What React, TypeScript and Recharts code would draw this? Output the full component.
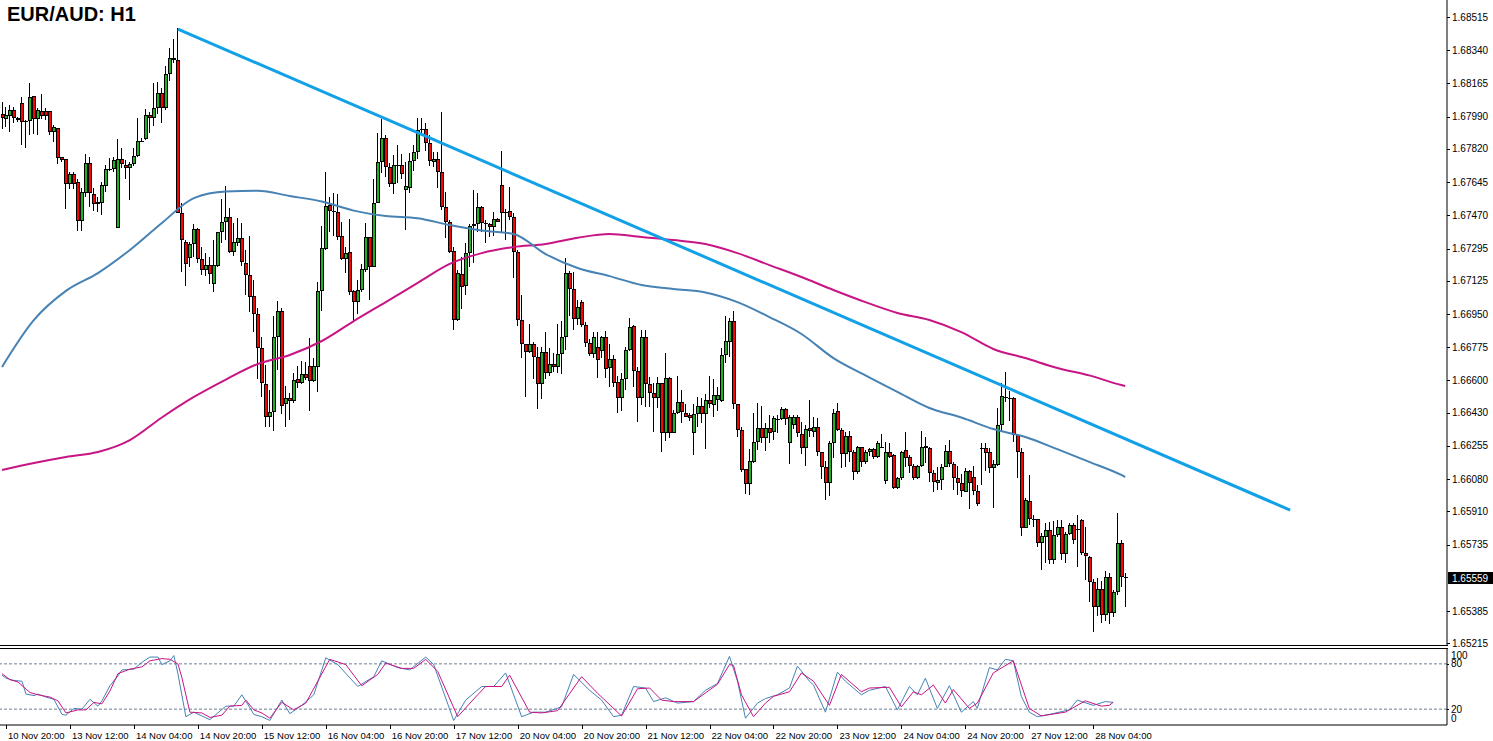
import React from "react";
import { ComposedChart, LineChart, Line, Bar, XAxis, YAxis, ReferenceLine } from "recharts";

// ---- price data (EUR/AUD H1), one entry per bar, oldest first ----
const opens = [
  1.68003, 1.67980, 1.67995, 1.68025, 1.67985, 1.68062, 1.67967, 1.67966, 1.68098, 1.67980,
  1.68022, 1.68020, 1.68020, 1.67911, 1.67929, 1.67778, 1.67766, 1.67634, 1.67688, 1.67644,
  1.67442, 1.67586, 1.67744, 1.67583, 1.67541, 1.67537, 1.67626, 1.67717, 1.67716, 1.67402,
  1.67766, 1.67735, 1.67722, 1.67739, 1.67783, 1.67858, 1.67872, 1.67999, 1.67985, 1.68034,
  1.68116, 1.68034, 1.68213, 1.68298, 1.68289, 1.67481, 1.67328, 1.67247, 1.67318, 1.67398,
  1.67238, 1.67182, 1.67208, 1.67107, 1.67205, 1.67382, 1.67437, 1.67464, 1.67278, 1.67327,
  1.67349, 1.67219, 1.67155, 1.67045, 1.66949, 1.66770, 1.66584, 1.66406, 1.66434, 1.66827,
  1.66966, 1.66474, 1.66505, 1.66494, 1.66606, 1.66587, 1.66633, 1.66678, 1.66599, 1.66673,
  1.67073, 1.67292, 1.67524, 1.67494, 1.67486, 1.67361, 1.67238, 1.67275, 1.67072, 1.67015,
  1.67077, 1.67182, 1.67355, 1.67200, 1.67534, 1.67750, 1.67876, 1.67723, 1.67634, 1.67734,
  1.67734, 1.67604, 1.67613, 1.67757, 1.67804, 1.67924, 1.67924, 1.67853, 1.67752, 1.67766,
  1.67697, 1.67516, 1.67437, 1.67284, 1.66919, 1.67160, 1.67099, 1.67271, 1.67415, 1.67426,
  1.67513, 1.67432, 1.67423, 1.67411, 1.67449, 1.67630, 1.67489, 1.67494, 1.67460, 1.67278,
  1.66919, 1.66790, 1.66748, 1.66790, 1.66722, 1.66580, 1.66748, 1.66638, 1.66686, 1.66671,
  1.66738, 1.66828, 1.67165, 1.67082, 1.66922, 1.67011, 1.66890, 1.66796, 1.66739, 1.66778,
  1.66757, 1.66827, 1.66664, 1.66711, 1.66594, 1.66505, 1.66606, 1.66761, 1.66887, 1.66650,
  1.66505, 1.66829, 1.66580, 1.66533, 1.66505, 1.66585, 1.66325, 1.66612, 1.66325, 1.66428,
  1.66484, 1.66428, 1.66418, 1.66325, 1.66424, 1.66465, 1.66424, 1.66497, 1.66471, 1.66497,
  1.66494, 1.66734, 1.66804, 1.66913, 1.66474, 1.66339, 1.66132, 1.66053, 1.66172, 1.66274,
  1.66348, 1.66298, 1.66348, 1.66327, 1.66399, 1.66397, 1.66451, 1.66270, 1.66364, 1.66406,
  1.66318, 1.66245, 1.66348, 1.66327, 1.66357, 1.66221, 1.66145, 1.66058, 1.66270, 1.66438,
  1.66339, 1.66211, 1.66307, 1.66224, 1.66116, 1.66249, 1.66168, 1.66224, 1.66238, 1.66195,
  1.66251, 1.66070, 1.66221, 1.66207, 1.66032, 1.66085, 1.66234, 1.66195, 1.66150, 1.66084,
  1.66149, 1.66255, 1.66243, 1.66111, 1.66058, 1.66075, 1.66145, 1.66228, 1.66161, 1.66085,
  1.66058, 1.66014, 1.66123, 1.66089, 1.66018, 1.66246, 1.66243, 1.66221, 1.66137, 1.66154,
  1.66366, 1.66514, 1.66510, 1.66505, 1.66313, 1.66224, 1.65824, 1.65965, 1.65870, 1.65872,
  1.65745, 1.65776, 1.65812, 1.65654, 1.65785, 1.65829, 1.65684, 1.65790, 1.65838, 1.65816,
  1.65865, 1.65693, 1.65671, 1.65539, 1.65405, 1.65499, 1.65364, 1.65563, 1.65373, 1.65483,
  1.65742, 1.65566,
];

const highs = [
  1.68066, 1.68040, 1.68052, 1.68040, 1.67990, 1.68092, 1.67973, 1.68166, 1.68098, 1.68034,
  1.68110, 1.68034, 1.68020, 1.67946, 1.67929, 1.67779, 1.67766, 1.67700, 1.67700, 1.67660,
  1.67613, 1.67793, 1.67779, 1.67613, 1.67568, 1.67647, 1.67735, 1.67771, 1.67779, 1.67872,
  1.67824, 1.67762, 1.67753, 1.67824, 1.67982, 1.67876, 1.68029, 1.68016, 1.68166, 1.68174,
  1.68140, 1.68255, 1.68350, 1.68400, 1.68456, 1.67534, 1.67340, 1.67332, 1.67425, 1.67402,
  1.67305, 1.67270, 1.67252, 1.67340, 1.67384, 1.67557, 1.67625, 1.67507, 1.67428, 1.67455,
  1.67432, 1.67288, 1.67361, 1.67129, 1.66983, 1.66827, 1.66680, 1.66550, 1.66940, 1.67019,
  1.66983, 1.66571, 1.66533, 1.66638, 1.66676, 1.66702, 1.66699, 1.66825, 1.66719, 1.67120,
  1.67415, 1.67700, 1.67568, 1.67586, 1.67582, 1.67437, 1.67305, 1.67451, 1.67077, 1.67129,
  1.67216, 1.67432, 1.67357, 1.67660, 1.67903, 1.67978, 1.67894, 1.67744, 1.67788, 1.67841,
  1.67792, 1.67753, 1.67797, 1.67841, 1.67982, 1.67982, 1.67958, 1.67894, 1.67804, 1.67806,
  1.68013, 1.67592, 1.67446, 1.67305, 1.67182, 1.67252, 1.67323, 1.67426, 1.67604, 1.67590,
  1.67519, 1.67446, 1.67432, 1.67486, 1.67455, 1.67809, 1.67504, 1.67618, 1.67481, 1.67288,
  1.67050, 1.66790, 1.66897, 1.66804, 1.66775, 1.66778, 1.66856, 1.66773, 1.66743, 1.66897,
  1.66913, 1.67244, 1.67178, 1.67173, 1.67024, 1.67024, 1.66910, 1.66817, 1.66857, 1.66857,
  1.66835, 1.66861, 1.66792, 1.66734, 1.66624, 1.66638, 1.66778, 1.66931, 1.66890, 1.66672,
  1.66866, 1.66866, 1.66620, 1.66585, 1.66620, 1.66588, 1.66743, 1.66620, 1.66444, 1.66624,
  1.66550, 1.66476, 1.66427, 1.66474, 1.66514, 1.66505, 1.66529, 1.66624, 1.66606, 1.66567,
  1.66770, 1.66940, 1.66931, 1.66966, 1.66474, 1.66357, 1.66132, 1.66238, 1.66431, 1.66483,
  1.66465, 1.66374, 1.66420, 1.66413, 1.66418, 1.66459, 1.66455, 1.66418, 1.66418, 1.66418,
  1.66383, 1.66366, 1.66497, 1.66406, 1.66400, 1.66224, 1.66177, 1.66280, 1.66448, 1.66480,
  1.66348, 1.66330, 1.66334, 1.66234, 1.66256, 1.66252, 1.66234, 1.66242, 1.66246, 1.66280,
  1.66316, 1.66277, 1.66272, 1.66213, 1.66093, 1.66230, 1.66330, 1.66207, 1.66161, 1.66155,
  1.66334, 1.66302, 1.66248, 1.66128, 1.66145, 1.66161, 1.66260, 1.66286, 1.66172, 1.66149,
  1.66105, 1.66137, 1.66128, 1.66149, 1.66049, 1.66269, 1.66269, 1.66243, 1.66181, 1.66453,
  1.66585, 1.66646, 1.66542, 1.66514, 1.66318, 1.66243, 1.65979, 1.66102, 1.65891, 1.65872,
  1.65794, 1.65847, 1.65856, 1.65861, 1.65865, 1.65865, 1.65800, 1.65847, 1.65847, 1.65891,
  1.65870, 1.65829, 1.65675, 1.65552, 1.65557, 1.65545, 1.65594, 1.65585, 1.65496, 1.65903,
  1.65759, 1.65585,
];

const lows = [
  1.67924, 1.67932, 1.67911, 1.67955, 1.67964, 1.67841, 1.67824, 1.67890, 1.67899, 1.67894,
  1.67978, 1.67973, 1.67896, 1.67855, 1.67739, 1.67752, 1.67505, 1.67609, 1.67609, 1.67387,
  1.67384, 1.67568, 1.67516, 1.67493, 1.67488, 1.67472, 1.67595, 1.67700, 1.67700, 1.67402,
  1.67716, 1.67660, 1.67555, 1.67730, 1.67776, 1.67855, 1.67864, 1.67903, 1.67941, 1.68003,
  1.67955, 1.68025, 1.68174, 1.68271, 1.67481, 1.67173, 1.67095, 1.67200, 1.67252, 1.67219,
  1.67160, 1.67150, 1.67108, 1.67068, 1.67200, 1.67327, 1.67340, 1.67271, 1.67252, 1.67305,
  1.67208, 1.67050, 1.66963, 1.66857, 1.66607, 1.66510, 1.66355, 1.66357, 1.66335, 1.66655,
  1.66424, 1.66355, 1.66392, 1.66480, 1.66560, 1.66581, 1.66605, 1.66441, 1.66593, 1.66542,
  1.66968, 1.67288, 1.67384, 1.67361, 1.67340, 1.67235, 1.67166, 1.67050, 1.66910, 1.66949,
  1.67068, 1.67173, 1.67027, 1.67200, 1.67534, 1.67695, 1.67673, 1.67618, 1.67582, 1.67639,
  1.67660, 1.67397, 1.67586, 1.67705, 1.67767, 1.67894, 1.67809, 1.67733, 1.67727, 1.67616,
  1.67495, 1.67352, 1.67273, 1.66866, 1.66915, 1.66977, 1.67050, 1.67200, 1.67219, 1.67387,
  1.67384, 1.67327, 1.67357, 1.67357, 1.67432, 1.67384, 1.67340, 1.67442, 1.67138, 1.66888,
  1.66719, 1.66510, 1.66743, 1.66607, 1.66448, 1.66505, 1.66607, 1.66627, 1.66644, 1.66638,
  1.66633, 1.66757, 1.66939, 1.66867, 1.66890, 1.66883, 1.66778, 1.66725, 1.66722, 1.66615,
  1.66720, 1.66612, 1.66565, 1.66565, 1.66428, 1.66436, 1.66554, 1.66755, 1.66561, 1.66383,
  1.66471, 1.66459, 1.66462, 1.66325, 1.66455, 1.66224, 1.66277, 1.66301, 1.66321, 1.66423,
  1.66374, 1.66409, 1.66383, 1.66204, 1.66355, 1.66374, 1.66238, 1.66455, 1.66405, 1.66441,
  1.66488, 1.66694, 1.66725, 1.66448, 1.66302, 1.66119, 1.66000, 1.65994, 1.66169, 1.66233,
  1.66271, 1.66229, 1.66270, 1.66286, 1.66321, 1.66392, 1.66366, 1.66160, 1.66342, 1.66302,
  1.66213, 1.66151, 1.66302, 1.66302, 1.66198, 1.66084, 1.65974, 1.65988, 1.66190, 1.66330,
  1.66137, 1.66145, 1.66171, 1.66075, 1.66111, 1.66145, 1.66160, 1.66202, 1.66190, 1.66193,
  1.66243, 1.66058, 1.66195, 1.66028, 1.66028, 1.66075, 1.66145, 1.66111, 1.66079, 1.66079,
  1.66145, 1.66166, 1.66066, 1.66014, 1.66023, 1.66023, 1.66145, 1.66145, 1.66023, 1.65996,
  1.65983, 1.66014, 1.65921, 1.65994, 1.65940, 1.66049, 1.66119, 1.66111, 1.65927, 1.66145,
  1.66330, 1.66488, 1.66383, 1.66277, 1.66084, 1.65777, 1.65821, 1.65838, 1.65826, 1.65724,
  1.65598, 1.65637, 1.65637, 1.65637, 1.65777, 1.65654, 1.65637, 1.65785, 1.65737, 1.65615,
  1.65681, 1.65548, 1.65431, 1.65273, 1.65355, 1.65322, 1.65328, 1.65316, 1.65355, 1.65469,
  1.65510, 1.65408,
];

const closes = [
  1.67985, 1.67998, 1.68025, 1.67982, 1.67971, 1.67964, 1.67965, 1.68092, 1.67980, 1.68025,
  1.67995, 1.67995, 1.67908, 1.67936, 1.67771, 1.67763, 1.67634, 1.67686, 1.67634, 1.67442,
  1.67592, 1.67744, 1.67586, 1.67528, 1.67528, 1.67630, 1.67717, 1.67715, 1.67762, 1.67766,
  1.67739, 1.67722, 1.67741, 1.67783, 1.67861, 1.67864, 1.67999, 1.67985, 1.68034, 1.68116,
  1.68036, 1.68213, 1.68298, 1.68287, 1.67481, 1.67340, 1.67214, 1.67318, 1.67398, 1.67238,
  1.67182, 1.67208, 1.67160, 1.67208, 1.67382, 1.67437, 1.67464, 1.67278, 1.67328, 1.67349,
  1.67222, 1.67155, 1.67042, 1.66949, 1.66770, 1.66589, 1.66409, 1.66434, 1.66827, 1.66966,
  1.66465, 1.66505, 1.66494, 1.66605, 1.66587, 1.66633, 1.66615, 1.66599, 1.66676, 1.67073,
  1.67296, 1.67519, 1.67493, 1.67488, 1.67357, 1.67238, 1.67270, 1.67068, 1.67015, 1.67077,
  1.67186, 1.67357, 1.67200, 1.67534, 1.67750, 1.67876, 1.67723, 1.67634, 1.67733, 1.67732,
  1.67686, 1.67625, 1.67757, 1.67806, 1.67921, 1.67922, 1.67853, 1.67758, 1.67766, 1.67697,
  1.67516, 1.67437, 1.67278, 1.66919, 1.67165, 1.67095, 1.67271, 1.67415, 1.67426, 1.67513,
  1.67432, 1.67426, 1.67411, 1.67449, 1.67437, 1.67484, 1.67490, 1.67460, 1.67278, 1.66919,
  1.66790, 1.66748, 1.66790, 1.66722, 1.66580, 1.66748, 1.66638, 1.66686, 1.66671, 1.66738,
  1.66828, 1.67165, 1.67083, 1.66922, 1.66988, 1.66890, 1.66796, 1.66739, 1.66828, 1.66708,
  1.66827, 1.66659, 1.66711, 1.66589, 1.66505, 1.66606, 1.66761, 1.66880, 1.66650, 1.66505,
  1.66829, 1.66580, 1.66533, 1.66505, 1.66585, 1.66325, 1.66612, 1.66325, 1.66428, 1.66484,
  1.66436, 1.66410, 1.66404, 1.66424, 1.66465, 1.66424, 1.66497, 1.66474, 1.66522, 1.66522,
  1.66734, 1.66810, 1.66913, 1.66474, 1.66339, 1.66128, 1.66053, 1.66177, 1.66274, 1.66348,
  1.66298, 1.66348, 1.66325, 1.66402, 1.66398, 1.66451, 1.66395, 1.66406, 1.66406, 1.66321,
  1.66243, 1.66342, 1.66334, 1.66357, 1.66221, 1.66145, 1.66061, 1.66270, 1.66428, 1.66339,
  1.66211, 1.66307, 1.66224, 1.66116, 1.66249, 1.66168, 1.66224, 1.66238, 1.66195, 1.66270,
  1.66250, 1.66224, 1.66198, 1.66035, 1.66087, 1.66224, 1.66190, 1.66150, 1.66084, 1.66149,
  1.66251, 1.66243, 1.66111, 1.66063, 1.66075, 1.66145, 1.66228, 1.66161, 1.66085, 1.66058,
  1.66018, 1.66123, 1.66058, 1.66018, 1.65949, 1.66244, 1.66216, 1.66137, 1.66158, 1.66366,
  1.66516, 1.66512, 1.66505, 1.66313, 1.66224, 1.65824, 1.65970, 1.65868, 1.65868, 1.65745,
  1.65780, 1.65812, 1.65654, 1.65785, 1.65829, 1.65684, 1.65790, 1.65838, 1.65759, 1.65814,
  1.65693, 1.65677, 1.65539, 1.65405, 1.65499, 1.65364, 1.65563, 1.65373, 1.65483, 1.65742,
  1.65566, 1.65559,
];

// moving averages, read every 8 bars
const maBars = [0, 8, 16, 24, 32, 40, 48, 56, 64, 72, 80, 88, 96, 104, 112, 120, 128, 136, 144, 152, 160, 168, 176, 184, 192, 200, 208, 216, 224, 232, 240, 248, 256, 264, 272, 280, 281];
const maFast = [1.66671, 1.66919, 1.67072, 1.67166, 1.67288, 1.67430, 1.67561, 1.67596, 1.67600, 1.67572, 1.67543, 1.67495, 1.67467, 1.67455, 1.67419, 1.67390, 1.67372, 1.67266, 1.67193, 1.67150, 1.67103, 1.67082, 1.67064, 1.67013, 1.66934, 1.66845, 1.66718, 1.66627, 1.66540, 1.66455, 1.66405, 1.66344, 1.66302, 1.66238, 1.66171, 1.66102, 1.66091];
const maSlow = [1.66128, 1.66165, 1.66197, 1.66223, 1.66286, 1.66405, 1.66513, 1.66605, 1.66687, 1.66734, 1.66808, 1.66913, 1.67013, 1.67114, 1.67214, 1.67271, 1.67303, 1.67319, 1.67352, 1.67372, 1.67356, 1.67340, 1.67319, 1.67271, 1.67208, 1.67145, 1.67077, 1.67013, 1.66956, 1.66919, 1.66855, 1.66766, 1.66718, 1.66666, 1.66627, 1.66576, 1.66571];

// trend line: [bar, price]
const trendStart = [44, 1.68452];
const trendEnd = [322.25, 1.65917];

// stochastic oscillator
const stochKBars = [0, 1, 3, 5, 6, 8, 9, 11, 13, 15, 16, 18, 20, 22, 24, 25, 27, 29, 30, 33, 35, 37, 39, 40, 42, 43, 44, 46, 48, 50, 52, 54, 56, 58, 60, 62, 63, 65, 67, 70, 72, 75, 78, 81, 84, 89, 93, 95, 99, 102, 106, 108, 113, 116, 120, 123, 126, 130, 133, 136, 140, 143, 147, 150, 153, 155, 158, 161, 163, 166, 169, 173, 176, 179, 182, 184, 186, 189, 191, 194, 197, 199, 202, 203, 206, 209, 211, 215, 217, 221, 224, 227, 229, 231, 234, 237, 240, 243, 244, 247, 249, 251, 253, 255, 257, 259, 262, 267, 269, 273, 276, 278];
const stochK = [65, 61, 58, 57, 40, 38, 40, 36, 33, 13, 12, 21, 20, 33, 24, 31, 51, 64, 72, 73, 82, 89, 89, 79, 84, 91, 67, 10, 16, 11, 6, 15, 24, 24, 39, 22, 13, 10, 5, 32, 14, 25, 39, 88, 79, 50, 63, 84, 75, 72, 89, 79, 5, 32, 50, 50, 68, 10, 16, 16, 23, 66, 45, 32, 10, 12, 50, 48, 30, 35, 28, 30, 45, 54, 90, 57, 8, 28, 34, 39, 48, 77, 57, 52, 16, 69, 57, 39, 45, 50, 19, 50, 39, 61, 21, 51, 16, 30, 21, 75, 72, 86, 84, 37, 16, 10, 13, 19, 32, 25, 30, 29];
const stochDBars = [0, 2, 4, 7, 9, 12, 14, 16, 19, 21, 23, 25, 27, 29, 32, 35, 37, 40, 42, 44, 45, 47, 50, 52, 55, 57, 60, 61, 63, 65, 67, 70, 73, 76, 82, 86, 90, 94, 96, 100, 103, 106, 109, 114, 119, 121, 125, 127, 132, 135, 139, 145, 149, 155, 159, 162, 165, 168, 173, 179, 182, 183, 185, 188, 191, 193, 197, 200, 203, 207, 210, 215, 217, 222, 225, 228, 230, 233, 236, 238, 242, 244, 248, 253, 257, 260, 266, 271, 275, 277, 278];
const stochD = [67, 59, 56, 42, 39, 36, 31, 15, 19, 19, 29, 27, 44, 67, 73, 76, 84, 87, 86, 80, 62, 16, 15, 9, 12, 24, 25, 32, 19, 15, 8, 29, 19, 28, 86, 79, 51, 66, 81, 74, 74, 86, 70, 10, 39, 50, 50, 65, 16, 15, 18, 63, 41, 11, 47, 48, 32, 30, 30, 53, 79, 78, 39, 10, 28, 37, 43, 68, 57, 25, 66, 43, 48, 49, 23, 43, 39, 52, 28, 46, 21, 28, 68, 84, 21, 11, 16, 31, 24, 25, 29];
const stochLevels = [20, 80];

// axis labels
const priceTicks = [1.68515, 1.6834, 1.68165, 1.6799, 1.6782, 1.67645, 1.6747, 1.67295, 1.67125, 1.6695, 1.66775, 1.666, 1.6643, 1.66255, 1.6608, 1.6591, 1.65735, 1.65559, 1.65385, 1.65215];
const currentPrice = 1.65559;
const timeTickBars = [1, 17, 33, 49, 65, 81, 97, 113, 129, 145, 161, 177, 193, 209, 225, 241, 257, 273];
const timeTickLabels = ["10 Nov 20:00", "13 Nov 12:00", "14 Nov 04:00", "14 Nov 20:00", "15 Nov 12:00", "16 Nov 04:00", "16 Nov 20:00", "17 Nov 12:00", "20 Nov 04:00", "20 Nov 20:00", "21 Nov 12:00", "22 Nov 04:00", "22 Nov 20:00", "23 Nov 12:00", "24 Nov 04:00", "24 Nov 20:00", "27 Nov 12:00", "28 Nov 04:00"];
const stochTicks = [0, 20, 80, 100];

const candles = opens.map((o, i) => ({
  bar: i,
  open: o,
  high: highs[i],
  low: lows[i],
  close: closes[i],
  range: [lows[i], highs[i]],
}));
const fastData = maBars.map((b, i) => ({ bar: b, v: maFast[i] }));
const slowData = maBars.map((b, i) => ({ bar: b, v: maSlow[i] }));
const kData = stochKBars.map((b, i) => ({ bar: b, v: stochK[i] }));
const dData = stochDBars.map((b, i) => ({ bar: b, v: stochD[i] }));

const W = 1493;
const AXIS_W = 46;
const MAIN_H = 645;
const X_DOMAIN: [number, number] = [-0.5, 361.5];
const FONT = "'Liberation Sans', Arial, sans-serif";

function Candle(props: any) {
  const { x, y, width, height, payload } = props;
  if (!payload || height == null) return null;
  const { open, close, high, low } = payload;
  const n = Math.round(x + width / 2);
  const k = high === low ? 0 : height / (high - low);
  const py = (p: number) => y + (high - p) * k;
  const top = Math.round(py(Math.max(open, close)));
  const bot = Math.round(py(Math.min(open, close)));
  const h = Math.max(1, bot - top);
  const up = close >= open;
  return (
    <g shapeRendering="crispEdges">
      <rect x={n} y={Math.round(y)} width={1} height={Math.max(1, Math.round(height))} fill="#000" />
      <rect x={n - 1} y={top} width={4} height={h} fill="#000" />
      {h > 2 ? <rect x={n} y={top + 1} width={2} height={h - 2} fill={up ? "#1fb41f" : "#ff0000"} /> : null}
    </g>
  );
}

function PriceTick(props: any) {
  const { x, y, payload } = props;
  const v = payload.value;
  const yy = Math.round(y) + 0.5;
  if (v === currentPrice) {
    return (
      <g>
        <rect x={x + 1} y={y - 6} width={45} height={12} fill="#000" />
        <text x={x + 5} y={y + 3.5} fontSize={10} fontFamily={FONT} fill="#fff">{v.toFixed(5)}</text>
      </g>
    );
  }
  return (
    <g>
      <line x1={x} x2={x + 3} y1={yy} y2={yy} stroke="#000" />
      <text x={x + 5} y={y + 3.5} fontSize={10} fontFamily={FONT} fill="#000">{v.toFixed(5)}</text>
    </g>
  );
}

function StochTick(props: any) {
  const { x, y, payload } = props;
  const v = payload.value;
  const shift = v === 100 ? 7 : v === 0 ? -6 : 0;
  return (
    <g>
      {v === 20 || v === 80 ? <line x1={x} x2={x + 2} y1={Math.round(y) + 0.5} y2={Math.round(y) + 0.5} stroke="#000" /> : null}
      <text x={x + 4} y={y + shift + 3.5} fontSize={10} fontFamily={FONT} fill="#000">{v}</text>
    </g>
  );
}

function TimeTick(props: any) {
  const { x, y, payload } = props;
  const idx = timeTickBars.indexOf(payload.value);
  const xx = Math.round(x) + 0.5;
  return (
    <g>
      <line x1={xx} x2={xx} y1={y} y2={y + 4} stroke="#000" />
      <text x={x + 2} y={y + 13.5} fontSize={9.5} fontFamily={FONT} fill="#000">{timeTickLabels[idx]}</text>
    </g>
  );
}

export default function App() {
  return (
    <div style={{ position: "relative", width: W, height: 741, background: "#fff", overflow: "hidden" }}>
      <style>{"body{margin:0} .recharts-surface{overflow:visible}"}</style>
      <div style={{ position: "absolute", left: 0, top: 0 }}>
        <ComposedChart width={W} height={MAIN_H} data={candles} margin={{ top: 0, right: 0, bottom: 0, left: 0 }}>
          <XAxis type="number" dataKey="bar" domain={X_DOMAIN} hide allowDataOverflow />
          <YAxis
            orientation="right"
            width={AXIS_W}
            domain={[1.65206, 1.68605]}
            allowDataOverflow
            ticks={priceTicks}
            interval={0}
            tickLine={false}
            tickSize={0}
            tickMargin={0}
            axisLine={{ stroke: "#000" }}
            tick={<PriceTick />}
          />
          <Bar dataKey="range" barSize={3} isAnimationActive={false} shape={(p: any) => <Candle {...p} />} />
          <Line data={slowData} dataKey="v" type="monotone" stroke="#c71585" strokeWidth={2} dot={false} activeDot={false} legendType="none" isAnimationActive={false} />
          <Line data={fastData} dataKey="v" type="monotone" stroke="#4682b4" strokeWidth={2} dot={false} activeDot={false} legendType="none" isAnimationActive={false} />
          <ReferenceLine
            segment={[{ x: trendStart[0], y: trendStart[1] }, { x: trendEnd[0], y: trendEnd[1] }]}
            stroke="#12a0e6"
            strokeWidth={3}
            ifOverflow="visible"
          />
        </ComposedChart>
      </div>
      <div style={{ position: "absolute", left: 0, top: 645, width: 1448, height: 1, background: "#000" }} />
      <div style={{ position: "absolute", left: 0, top: 648, width: 1448, height: 1, background: "#000" }} />
      <div style={{ position: "absolute", left: 0, top: 648 }}>
        <LineChart width={W} height={93} margin={{ top: 0, right: 0, bottom: 0, left: 0 }}>
          <XAxis
            type="number"
            dataKey="bar"
            domain={X_DOMAIN}
            allowDataOverflow
            ticks={timeTickBars}
            interval={0}
            height={16}
            tickLine={false}
            tickSize={0}
            tickMargin={0}
            axisLine={{ stroke: "#000" }}
            tick={<TimeTick />}
          />
          <YAxis
            orientation="right"
            width={AXIS_W}
            domain={[-1, 101]}
            allowDataOverflow
            ticks={stochTicks}
            interval={0}
            tickLine={false}
            tickSize={0}
            tickMargin={0}
            axisLine={{ stroke: "#000" }}
            tick={<StochTick />}
          />
          {stochLevels.map((lv) => (
            <ReferenceLine key={lv} y={lv} stroke="#6d7f92" strokeDasharray="3 2" />
          ))}
          <Line data={kData} dataKey="v" type="linear" stroke="#4682b4" strokeWidth={1} dot={false} activeDot={false} isAnimationActive={false} />
          <Line data={dData} dataKey="v" type="linear" stroke="#c71585" strokeWidth={1} dot={false} activeDot={false} isAnimationActive={false} />
        </LineChart>
      </div>
      <div
        style={{
          position: "absolute",
          left: 7,
          top: 4,
          fontFamily: FONT,
          fontWeight: "bold",
          fontSize: 20,
          lineHeight: "20px",
          color: "#000",
        }}
      >
        EUR/AUD: H1
      </div>
    </div>
  );
}
